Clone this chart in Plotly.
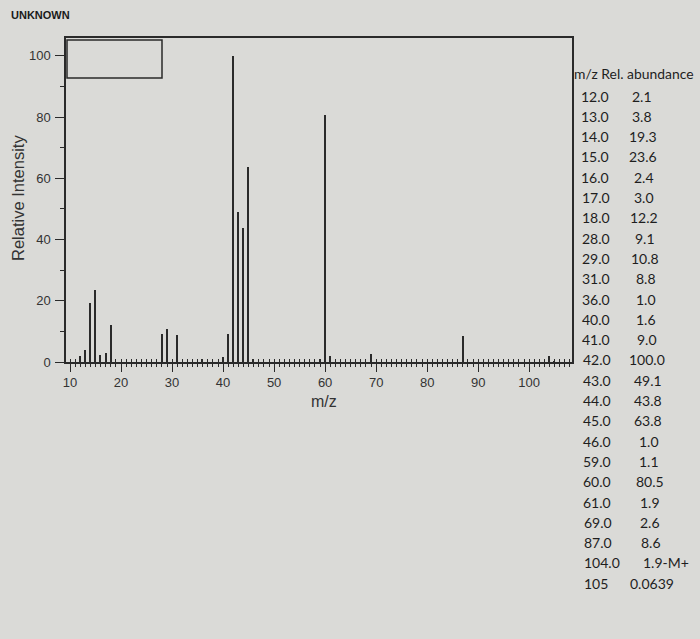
import plotly.graph_objects as go

# mass spectrum of the unknown (m/z vs relative abundance, %)
mz = [12, 13, 14, 15, 16, 17, 18, 28, 29, 31, 36, 40, 41, 42, 43, 44, 45, 46, 59, 60, 61, 69, 87, 104, 105]
abundance = [2.1, 3.8, 19.3, 23.6, 2.4, 3.0, 12.2, 9.1, 10.8, 8.8, 1.0, 1.6, 9.0, 100.0, 49.1, 43.8, 63.8,
             1.0, 1.1, 80.5, 1.9, 2.6, 8.6, 1.9, 0.0639]
mz_labels = ["12.0", "13.0", "14.0", "15.0", "16.0", "17.0", "18.0", "28.0", "29.0", "31.0", "36.0", "40.0",
             "41.0", "42.0", "43.0", "44.0", "45.0", "46.0", "59.0", "60.0", "61.0", "69.0", "87.0", "104.0", "105"]
abundance_labels = ["2.1", "3.8", "19.3", "23.6", "2.4", "3.0", "12.2", "9.1", "10.8", "8.8", "1.0", "1.6",
                    "9.0", "100.0", "49.1", "43.8", "63.8", "1.0", "1.1", "80.5", "1.9", "2.6", "8.6",
                    "1.9-M+", "0.0639"]

W, H = 700, 639
L, R, T, B = 66, 572, 38, 362  # plot area in pixels
INK = "#2a2a2a"
BG = "#dadad7"
SANS = "Liberation Sans, Arial, sans-serif"


def px_x(x):
    return (x - L) / (R - L)


def px_y(y):
    return (B - y) / (B - T)


fig = go.Figure()
fig.add_trace(go.Bar(x=mz, y=abundance, width=0.3, marker=dict(color=INK, line_width=0),
                     hovertemplate="m/z %{x}: %{y}<extra></extra>", showlegend=False))
# empty trace so the tick-crossing overlay axis gets drawn
fig.add_trace(go.Scatter(x=[], y=[], xaxis="x2", showlegend=False))

tick_font = dict(family=SANS, size=13, color="#333")
fig.update_layout(
    width=W, height=H,
    margin=dict(l=L, r=W - R, t=T, b=H - B),
    paper_bgcolor=BG, plot_bgcolor=BG,
    bargap=0,
    xaxis=dict(range=[9.2, 108.4], tick0=0, dtick=10, ticks="outside", ticklen=8, tickwidth=1.2,
               tickcolor=INK, minor=dict(dtick=1, ticks="outside", ticklen=3, tickcolor=INK, tickwidth=1),
               showline=True, linecolor=INK, linewidth=1.5, mirror=True, showgrid=False, zeroline=False,
               tickfont=tick_font, ticklabelstandoff=0),
    xaxis2=dict(overlaying="x", matches="x", range=[9.2, 108.4], side="bottom", anchor="y",
                tick0=0, dtick=10, ticks="inside", ticklen=3, tickcolor=INK, tickwidth=1,
                minor=dict(dtick=1, ticks="inside", ticklen=3, tickcolor=INK, tickwidth=1),
                showticklabels=False, showline=False, showgrid=False, zeroline=False),
    yaxis=dict(range=[0, 105.8], tick0=0, dtick=20, ticks="outside", ticklen=9, tickwidth=1.2,
               tickcolor=INK, minor=dict(dtick=10, ticks="outside", ticklen=4, tickcolor=INK, tickwidth=1),
               showline=True, linecolor=INK, linewidth=1.5, mirror=True, showgrid=False, zeroline=False,
               tickfont=tick_font, ticklabelstandoff=2),
    font=dict(family=SANS, color="#333"),
)

# empty legend box in the top-left corner
fig.add_shape(type="rect", xref="paper", yref="paper", x0=px_x(67), x1=px_x(162), y0=px_y(78), y1=px_y(40),
              line=dict(color=INK, width=1.5))

fig.add_annotation(text="<b>UNKNOWN</b>", xref="paper", yref="paper", x=px_x(9), y=px_y(15),
                   xanchor="left", yanchor="middle", showarrow=False,
                   font=dict(family=SANS, size=11, color="#1a1a1a"))
fig.add_annotation(text="Relative Intensity", xref="paper", yref="paper", x=px_x(18), y=px_y(198),
                   textangle=-90, xanchor="center", yanchor="middle", showarrow=False,
                   font=dict(family=SANS, size=16.5, color="#333"))
fig.add_annotation(text="m/z", xref="paper", yref="paper", x=px_x(324), y=px_y(401),
                   xanchor="center", yanchor="middle", showarrow=False,
                   font=dict(family=SANS, size=16, color="#333"))

# data table on the right
table_font = dict(family="Lato, Carlito, sans-serif", size=14, color="#1e1e1e")
fig.add_annotation(text="m/z Rel. abundance", xref="paper", yref="paper", x=px_x(572), y=px_y(73),
                   xanchor="left", yanchor="middle", showarrow=False,
                   font=dict(table_font, size=13.9))
for i, (m, a) in enumerate(zip(mz_labels, abundance_labels)):
    y = px_y(96 + 20.3 * i)
    fig.add_annotation(text=m, xref="paper", yref="paper", x=px_x(579 + 0.12 * i), y=y,
                       xanchor="left", yanchor="middle", showarrow=False, font=table_font)
    if "-" in a:
        fig.add_annotation(text=a, xref="paper", yref="paper", x=px_x(641), y=y,
                           xanchor="left", yanchor="middle", showarrow=False, font=table_font)
    else:
        fig.add_annotation(text=a, xref="paper", yref="paper", x=px_x(642 + 0.4 * i), y=y,
                           xanchor="center", yanchor="middle", showarrow=False, font=table_font)

fig.write_html("out.html", config={"displayModeBar": False},
               post_script="document.body.style.margin='0';")
